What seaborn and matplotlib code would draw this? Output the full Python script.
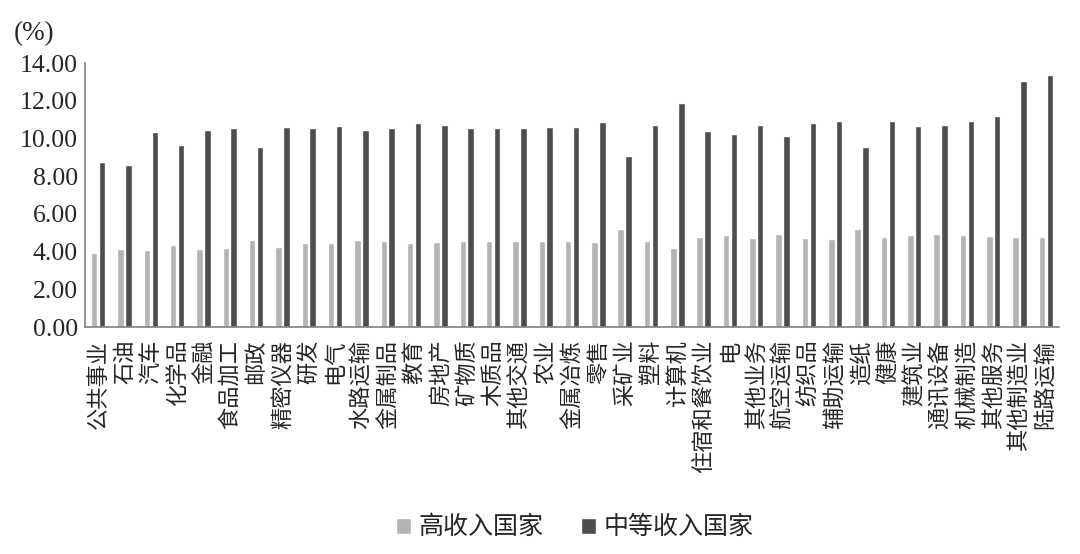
import numpy as np
import pandas as pd
import seaborn as sns
import matplotlib.pyplot as plt
from matplotlib.ticker import FixedLocator, FormatStrFormatter

industries = ["公共事业", "石油", "汽车", "化学品", "金融", "食品加工", "邮政", "精密仪器",
              "研发", "电气", "水路运输", "金属制品", "教育", "房地产", "矿物质", "木质品",
              "其他交通", "农业", "金属冶炼", "零售", "采矿业", "塑料", "计算机", "住宿和餐饮业",
              "电", "其他业务", "航空运输", "纺织品", "辅助运输", "造纸", "健康", "建筑业",
              "通讯设备", "机械制造", "其他服务", "其他制造业", "陆路运输"]

high_income = [3.92, 4.14, 4.06, 4.35, 4.14, 4.20, 4.63, 4.27, 4.47, 4.47, 4.61, 4.58,
               4.47, 4.52, 4.58, 4.58, 4.58, 4.58, 4.58, 4.52, 5.18, 4.58, 4.19, 4.77,
               4.88, 4.70, 4.95, 4.70, 4.67, 5.21, 4.77, 4.88, 4.93, 4.88, 4.82, 4.77, 4.75]

middle_income = [8.73, 8.59, 10.32, 9.68, 10.46, 10.57, 9.54, 10.62, 10.58, 10.66, 10.46, 10.53,
                 10.83, 10.69, 10.55, 10.57, 10.58, 10.62, 10.62, 10.87, 9.08, 10.73, 11.88, 10.42,
                 10.23, 10.74, 10.11, 10.80, 10.95, 9.56, 10.90, 10.64, 10.69, 10.95, 11.19, 13.06, 13.34]

series_names = ["高收入国家", "中等收入国家"]

df = pd.DataFrame({
    "industry": industries * 2,
    "value": high_income + middle_income,
    "group": [series_names[0]] * len(industries) + [series_names[1]] * len(industries),
})

sns.set_style("white")
plt.rcParams['font.family'] = ['Liberation Serif', 'Noto Sans CJK SC', 'DejaVu Sans']

fig = plt.figure(figsize=(10.8, 5.54), dpi=100)
ax = fig.add_axes([0.0787, 0.4097, 0.9019, 0.4765])

sns.barplot(data=df, x="industry", y="value", hue="group", order=industries,
            hue_order=series_names, palette=["#b4b4b4", "#4d4d4d"],
            width=0.6, gap=0.18, saturation=1, ax=ax, legend=True)

ax.set_xlim(-0.5, len(industries) - 0.5)
ax.set_ylim(0, 14)
ax.set_yticks(np.arange(0, 14.01, 2))
ax.yaxis.set_major_formatter(FormatStrFormatter("%.2f"))
ax.set_xlabel("")
ax.set_ylabel("")

for s in ["top", "right"]:
    ax.spines[s].set_visible(False)
for s in ["left", "bottom"]:
    ax.spines[s].set_color("#808080")
    ax.spines[s].set_linewidth(1.2)

ax.tick_params(axis="y", direction="in", length=4, color="#808080", labelsize=18.5, pad=5)
ax.tick_params(axis="x", which="major", length=0, pad=9)
ax.xaxis.set_minor_locator(FixedLocator(np.arange(-0.5, len(industries), 1)))
ax.tick_params(axis="x", which="minor", direction="in", length=6, color="#404040", width=1)
ax.set_xticks(range(len(industries)))
ax.set_xticklabels(industries, rotation=90, va="top", ha="center",
                   fontsize=16, family=['Noto Sans CJK SC'])

fig.text(0.013, 0.94, "(%)", fontsize=19.5, ha="left", va="center")

handles, labels = ax.get_legend_handles_labels()
ax.legend_.remove()
fig.legend(handles, labels, loc="center", bbox_to_anchor=(0.532, 0.048), ncol=2,
           frameon=False, handlelength=0.6, handleheight=0.6, handletextpad=0.3,
           columnspacing=1.5, prop={'family': 'Noto Sans CJK SC', 'size': 18})

fig.savefig("out.png", dpi=100)
